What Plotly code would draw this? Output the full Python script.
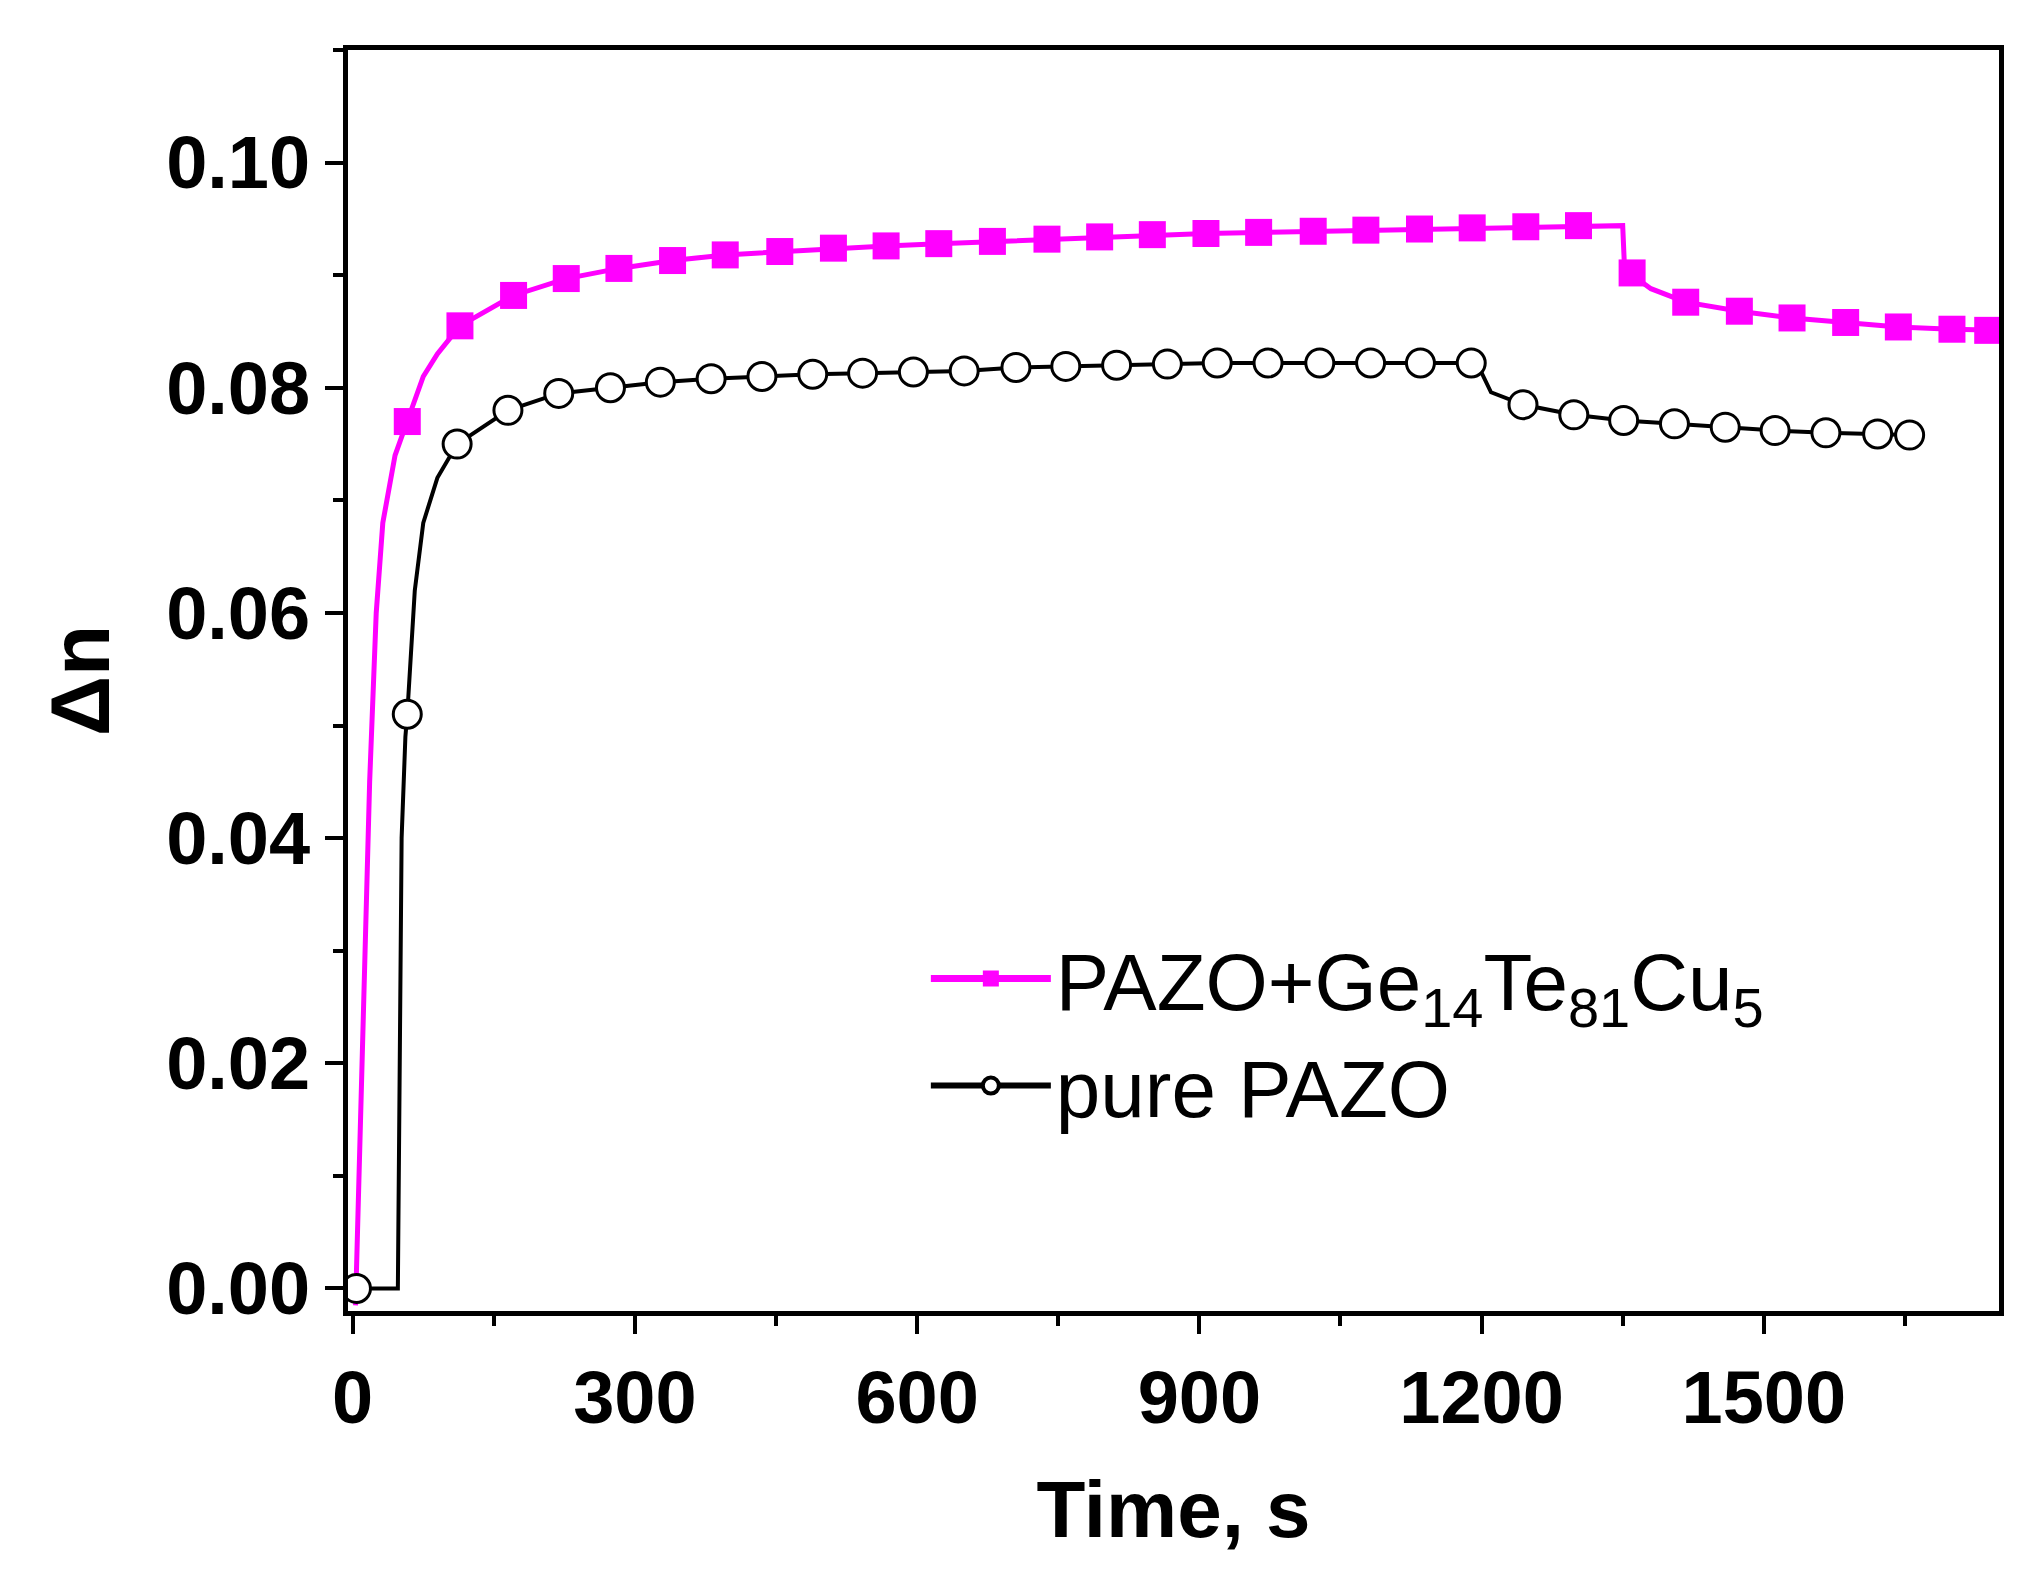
import plotly.graph_objects as go

# PAZO+Ge14Te81Cu5 markers
m_x = [58,114,171,227,283,340,396,454,511,567,623,680,738,794,850,907,963,1021,1077,1134,1190,1247,1303,
       1360,1417,1474,1530,1587,1643,1700,1738]
m_y = [0.077,0.0855,0.0882,0.0897,0.0906,0.0913,0.0918,0.0921,0.0924,0.0926,0.0928,0.0930,0.0932,0.0934,
       0.0936,0.0937,0.0938,0.0939,0.0940,0.0941,0.0942,0.0943,0.0944,
       0.0902,0.0876,0.0868,0.0862,0.0858,0.0854,0.0852,0.0851]
# extra curve points for the magenta line
m_lx = [3,10,18,25,32,45,58,75,90,114,171,227,283,340,396,454,511,567,623,680,738,794,850,907,963,1021,1077,
        1134,1190,1247,1303,1350,1352,1360,1380,1417,1474,1530,1587,1643,1700,1750]
m_ly = [-0.0015,0.02,0.045,0.060,0.068,0.074,0.077,0.081,0.083,0.0855,0.0882,0.0897,0.0906,0.0913,0.0918,
        0.0921,0.0924,0.0926,0.0928,0.0930,0.0932,0.0934,0.0936,0.0937,0.0938,0.0939,0.0940,0.0941,0.0942,
        0.0943,0.0944,0.0944,0.0905,0.0900,0.0888,0.0876,0.0868,0.0862,0.0858,0.0854,0.0852,0.0851]

# pure PAZO markers
b_x = [4,58,111,165,219,274,327,381,435,489,542,596,650,705,758,812,866,919,973,1028,1082,1135,1189,
       1244,1298,1351,1405,1459,1512,1566,1621,1655]
b_y = [0.0,0.051,0.075,0.078,0.0795,0.080,0.0805,0.0808,0.0810,0.0812,0.0813,0.0814,0.0815,0.0818,0.0819,
       0.0820,0.0821,0.0822,0.0822,0.0822,0.0822,0.0822,0.0822,
       0.0785,0.0776,0.0771,0.0768,0.0765,0.0762,0.0760,0.0759,0.0758]
b_lx = [0,48,52,56,58,66,75,90,111,165,219,274,327,381,435,489,542,596,650,705,758,812,866,919,973,1028,
        1082,1135,1195,1210,1244,1298,1351,1405,1459,1512,1566,1621,1655]
b_ly = [0.0,0.0,0.040,0.049,0.051,0.062,0.068,0.072,0.075,0.078,0.0795,0.080,0.0805,0.0808,0.0810,0.0812,
        0.0813,0.0814,0.0815,0.0818,0.0819,0.0820,0.0821,0.0822,0.0822,0.0822,0.0822,0.0822,0.0822,0.0796,
        0.0785,0.0776,0.0771,0.0768,0.0765,0.0762,0.0760,0.0759,0.0758]

MAG = "#ff00ff"
fig = go.Figure()
fig.add_trace(go.Scatter(x=m_lx, y=m_ly, mode="lines", line=dict(color=MAG, width=5), showlegend=False))
fig.add_trace(go.Scatter(x=m_x, y=m_y, mode="markers", marker=dict(symbol="square", size=27, color=MAG),
                         showlegend=False))
fig.add_trace(go.Scatter(x=b_lx, y=b_ly, mode="lines", line=dict(color="black", width=4), showlegend=False))
fig.add_trace(go.Scatter(x=b_x, y=b_y, mode="markers",
                         marker=dict(symbol="circle", size=28, color="white", line=dict(color="black", width=3)),
                         showlegend=False))
fig.add_trace(go.Scatter(x=[None], y=[None], mode="lines+markers", name="PAZO+Ge<sub>14</sub>Te<sub>81</sub>Cu<sub>5</sub>",
                         line=dict(color=MAG, width=7), marker=dict(symbol="square", size=40, color=MAG)))
fig.add_trace(go.Scatter(x=[None], y=[None], mode="lines+markers", name="pure PAZO",
                         line=dict(color="black", width=6),
                         marker=dict(symbol="circle", size=40, color="white", line=dict(color="black", width=4))))

axis_common = dict(showline=True, linewidth=5, linecolor="black", mirror=True, showgrid=False, zeroline=False,
                   ticks="outside", ticklen=18, tickwidth=4, tickcolor="black",
                   tickfont=dict(family="Liberation Sans", size=74, color="black", weight="bold"))
fig.update_xaxes(range=[-5, 1750], tickmode="array", tickvals=[0, 300, 600, 900, 1200, 1500],
                 minor=dict(dtick=150, tick0=0, ticks="outside", ticklen=10, tickwidth=4, tickcolor="black"),
                 title=dict(text="<b>Time, s</b>", font=dict(family="Liberation Sans", size=80, color="black"),
                            standoff=45),
                 **axis_common)
fig.update_yaxes(range=[-0.002, 0.11], tickmode="array", tickvals=[0, 0.02, 0.04, 0.06, 0.08, 0.10],
                 ticktext=["0.00", "0.02", "0.04", "0.06", "0.08", "0.10"],
                 minor=dict(dtick=0.01, tick0=0, ticks="outside", ticklen=10, tickwidth=4, tickcolor="black"),
                 title=dict(text="<b>Δn</b>", font=dict(family="Liberation Sans", size=84, color="black"),
                            standoff=30),
                 **axis_common)
fig.update_layout(width=2019, height=1588, plot_bgcolor="white", paper_bgcolor="white",
                  margin=dict(l=340, r=28, t=42, b=285),
                  legend=dict(x=0.35, y=0.31, xanchor="left", yanchor="top", bgcolor="rgba(0,0,0,0)",
                              font=dict(family="Liberation Sans", size=80, color="black"),
                              itemwidth=120, tracegroupgap=10))
fig.write_html("out.html")
